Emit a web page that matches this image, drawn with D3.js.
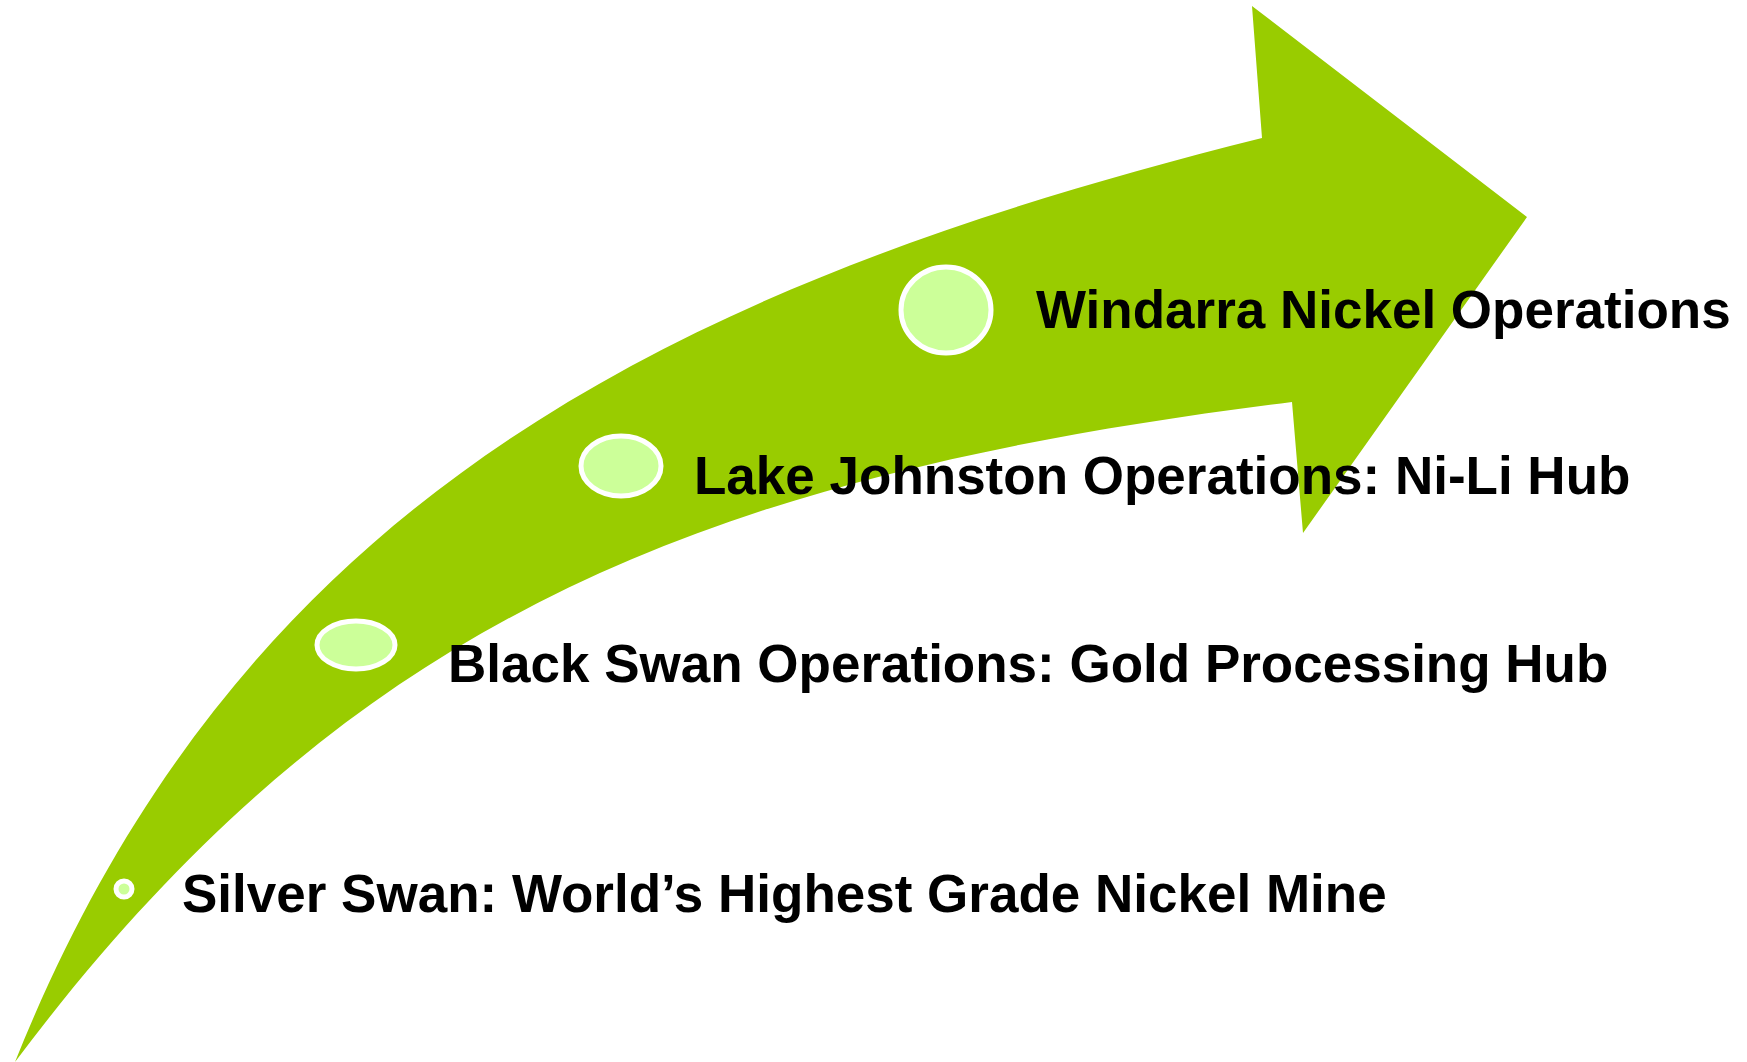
<!DOCTYPE html>
<html>
<head>
<meta charset="utf-8">
<script src="https://cdn.jsdelivr.net/npm/d3@7"></script>
<style>
  html, body { margin: 0; padding: 0; background: #fff; }
  svg { display: block; }
</style>
</head>
<body>
<div id="chart"></div>
<script>
// sites, from first to latest
const sites = [
  "Silver Swan: World\u2019s Highest Grade Nickel Mine",
  "Black Swan Operations: Gold Processing Hub",
  "Lake Johnston Operations: Ni-Li Hub",
  "Windarra Nickel Operations"
];
const stage = [1, 2, 3, 4];

const width = 1747, height = 1062;

// arrow outline (layout only): tail point, bezier edges and head
const tail = [15, 1062];
const outerCtrl = [[238, 505], [662, 288], [1262, 138]];
const head = [[1252, 6], [1527, 217], [1303, 533], [1292, 402]];
const innerCtrl = [[697, 476], [345, 622], tail];

// bubble layout per stage
const bubbleX = [124, 356, 621, 946];
const bubbleY = [889, 645, 466, 310];
const bubbleRx = [8, 39, 40, 45];
const bubbleRy = [8, 24, 30, 43];
const labelX = [182, 448, 694, 1036];
const labelY = [912, 682, 494, 328];

const svg = d3.select("#chart")
  .append("svg")
  .attr("width", width)
  .attr("height", height);

const p = d3.path();
p.moveTo(tail[0], tail[1]);
p.bezierCurveTo(...outerCtrl[0], ...outerCtrl[1], ...outerCtrl[2]);
head.forEach(pt => p.lineTo(pt[0], pt[1]));
p.bezierCurveTo(...innerCtrl[0], ...innerCtrl[1], ...innerCtrl[2]);
p.closePath();

svg.append("path")
  .attr("d", p.toString())
  .attr("fill", "#99cc00");

const nodes = svg.selectAll("g.site")
  .data(sites)
  .enter()
  .append("g")
  .attr("class", "site");

nodes.append("ellipse")
  .attr("cx", (d, i) => bubbleX[i])
  .attr("cy", (d, i) => bubbleY[i])
  .attr("rx", (d, i) => bubbleRx[i])
  .attr("ry", (d, i) => bubbleRy[i])
  .attr("fill", "#ccff99")
  .attr("stroke", "#ffffff")
  .attr("stroke-width", 5);

nodes.append("text")
  .attr("x", (d, i) => labelX[i])
  .attr("y", (d, i) => labelY[i])
  .style("font-family", "'Liberation Sans', Arial, sans-serif")
  .style("font-weight", "bold")
  .style("font-size", "53px")
  .attr("fill", "#000")
  .text(d => d);
</script>
</body>
</html>
